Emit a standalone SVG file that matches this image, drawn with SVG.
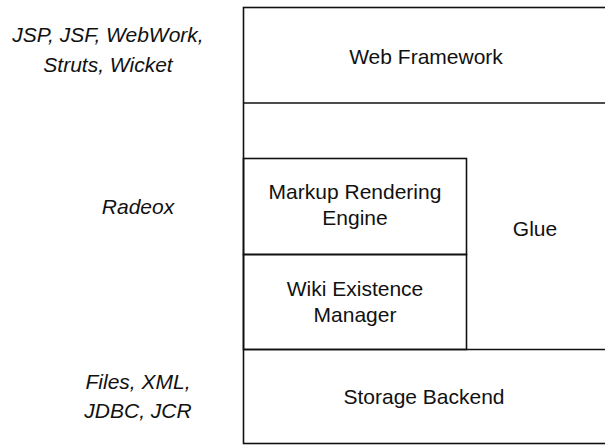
<svg xmlns="http://www.w3.org/2000/svg" width="605" height="445" viewBox="0 0 605 445">
  <style>
    .box { fill: none; stroke: #111; stroke-width: 1.6; }
    .lbl { font-family: "Liberation Sans", Arial, sans-serif; font-size: 21px; fill: #111; text-anchor: middle; }
    .side { font-family: "Liberation Sans", Arial, sans-serif; font-size: 21px; font-style: italic; fill: #111; text-anchor: middle; }
  </style>
  <rect width="605" height="445" fill="#fff"/>

  <!-- outer stack frame (right edge runs off the canvas) -->
  <g id="frame">
    <rect class="box" x="243.5" y="7.5" width="365" height="436"/>
  </g>

  <g id="web-framework">
    <line class="box" x1="243.5" y1="103" x2="608" y2="103"/>
    <text class="lbl" x="426" y="64">Web Framework</text>
  </g>

  <g id="markup-engine">
    <rect class="box" x="243.5" y="158.5" width="223" height="96"/>
    <text class="lbl" x="355" y="199">Markup Rendering</text>
    <text class="lbl" x="355" y="225">Engine</text>
  </g>

  <g id="wiki-existence">
    <rect class="box" x="243.5" y="254.5" width="223" height="95"/>
    <text class="lbl" x="355" y="296">Wiki Existence</text>
    <text class="lbl" x="355" y="322">Manager</text>
  </g>

  <g id="glue">
    <text class="lbl" x="535" y="236">Glue</text>
  </g>

  <g id="storage-backend">
    <line class="box" x1="243.5" y1="349.5" x2="608" y2="349.5"/>
    <text class="lbl" x="424" y="404">Storage Backend</text>
  </g>

  <!-- technology labels on the left -->
  <g id="labels">
    <text class="side" x="108" y="42">JSP, JSF, WebWork,</text>
    <text class="side" x="108" y="72">Struts, Wicket</text>
    <text class="side" x="138" y="214">Radeox</text>
    <text class="side" x="138" y="389">Files, XML,</text>
    <text class="side" x="138" y="418">JDBC, JCR</text>
  </g>

  <g id="connectors"></g>
</svg>
